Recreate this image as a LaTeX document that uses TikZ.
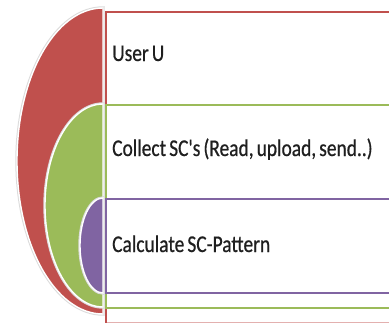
\documentclass[tikz,border=0pt]{standalone}
\usepackage{fontspec}
\newfontfamily\labelfont[FakeStretch=0.81,FakeBold=0.6,WordSpace=0.7]{Carlito}

\begin{document}
\begin{tikzpicture}[x=1pt, y=-1pt]
    \definecolor{levelred}{HTML}{C0504D}
\definecolor{levelgreen}{HTML}{9BBB59}
\definecolor{levelpurple}{HTML}{8064A2}
\colorlet{labeltext}{black!88}

\newcommand\edge{103}
\newcommand\boxleft{106}
\newcommand\boxright{395}
\newcommand\textleft{112}

\tikzset{
    half disc/.style={
        fill=#1, draw=white, line width=1.4pt,
        preaction={draw=black!14, line width=3.4pt},
    },
    level box/.style={
        draw=#1, fill=white, line width=1.4pt,
    },
    level label/.style={
        anchor=base west, inner sep=0pt, text=labeltext,
        font=\labelfont\fontsize{24}{28}\selectfont,
    },
}

\useasboundingbox (0, 0) rectangle (389, 322);

% outer level
\draw[level box=levelred!45] (\boxleft, 12) rectangle (\boxright, 322.5);
\draw[levelred, line width=1.4pt] (\boxleft, 322.5) |- (\boxright, 12);
\path[half disc=levelred] (\edge, 8)
    arc[x radius=86, y radius=153, start angle=270, delta angle=-180] -- cycle;

% middle level
\draw[level box=levelgreen] (\boxleft, 105) rectangle (\boxright, 308);
\path[half disc=levelgreen] (\edge, 104)
    arc[x radius=58, y radius=101.5, start angle=270, delta angle=-180] -- cycle;

% inner level
\draw[level box=levelpurple] (\boxleft, 199) rectangle (\boxright, 293);
\path[half disc=levelpurple] (\edge, 198)
    arc[x radius=23, y radius=47.5, start angle=270, delta angle=-180] -- cycle;

\node[level label] (user) at (\textleft, 61) {User U};
\node[level label] (collect) at (\textleft, 156) {Collect SC's (Read, upload, send..)};
\node[level label] (calculate) at (\textleft, 252) {Calculate SC-Pattern};
\end{tikzpicture}
\end{document}
